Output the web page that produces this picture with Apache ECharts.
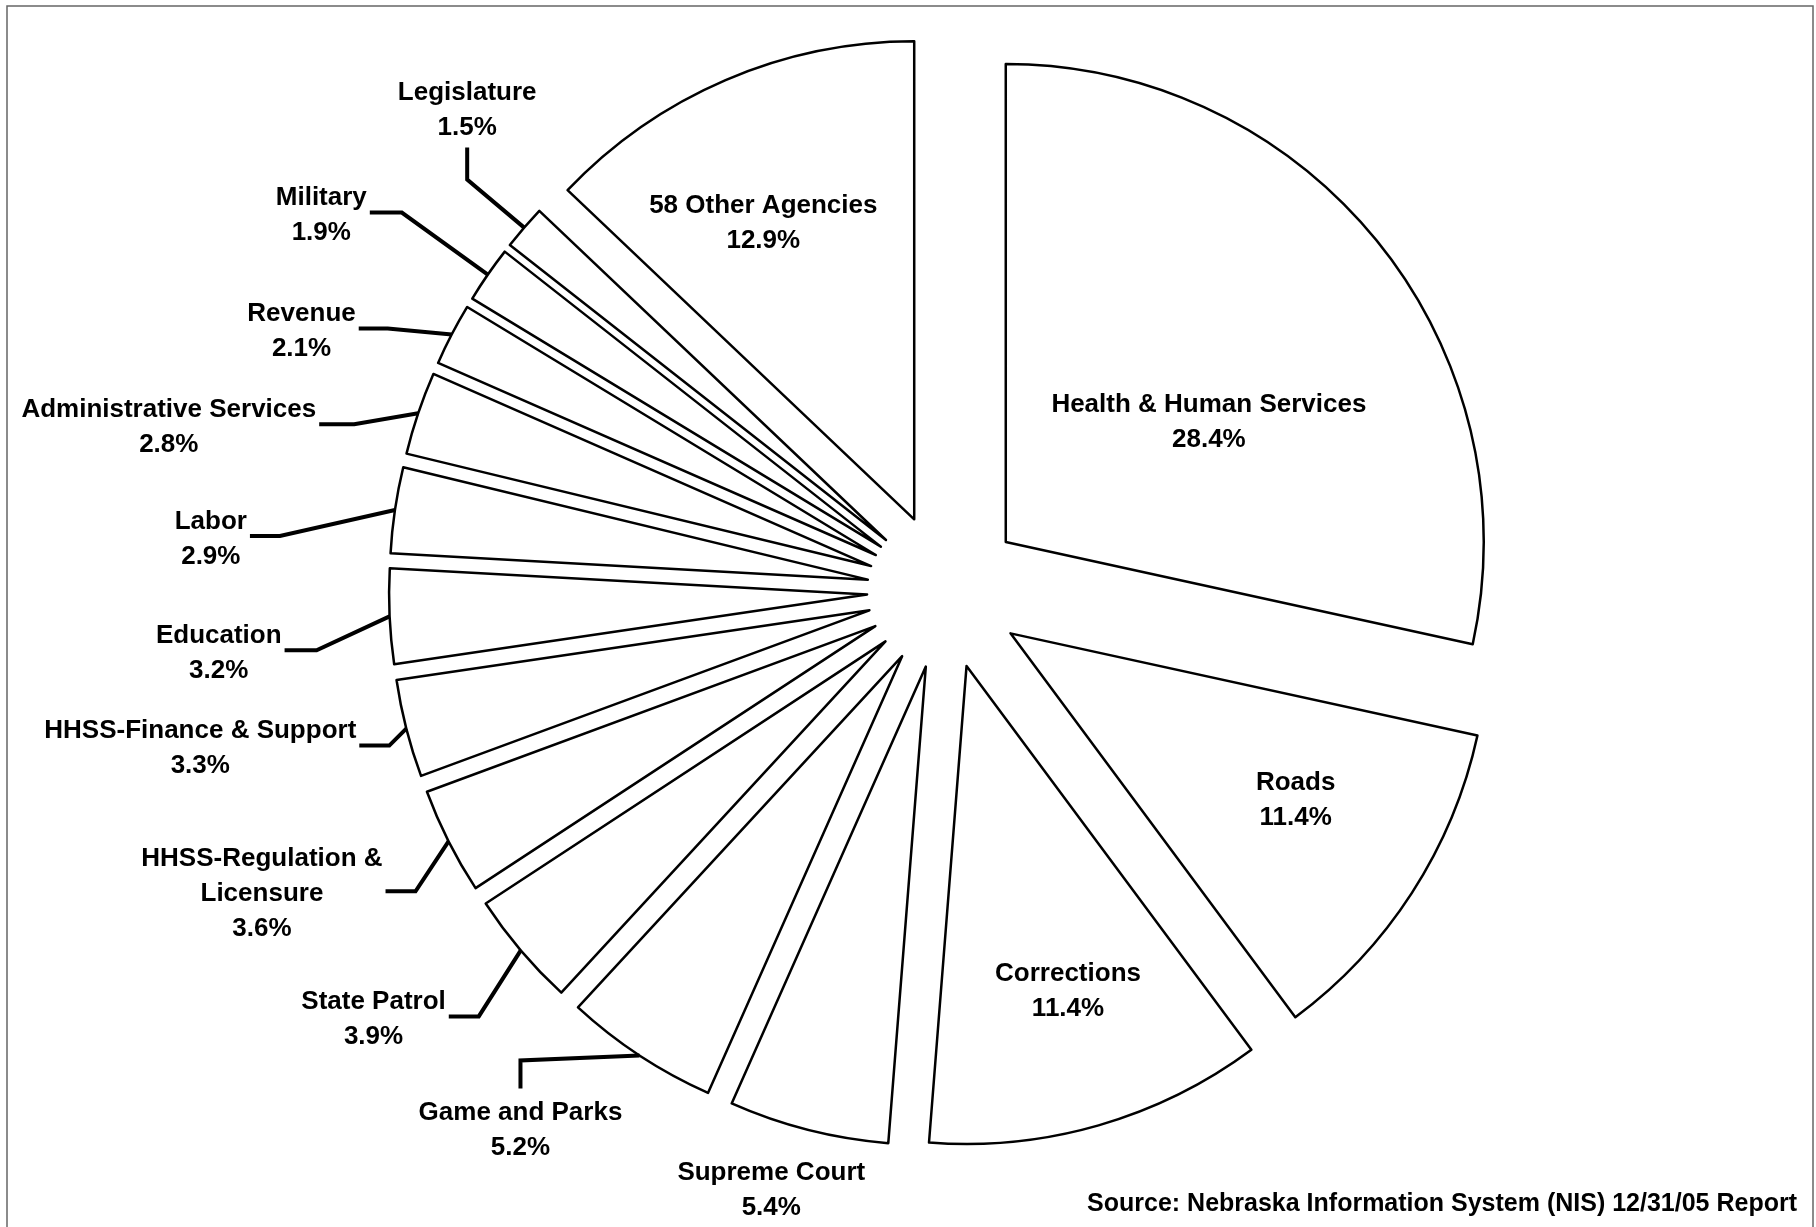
<!DOCTYPE html>
<html lang="en">
<head>
<meta charset="UTF-8">
<title>State agencies share</title>
<script src="https://cdn.jsdelivr.net/npm/echarts@6/dist/echarts.min.js"></script>
<style>
  html, body { margin: 0; padding: 0; background: #fff; }
  #my-chart { width: 1816px; height: 1227px; }
</style>
</head>
<body>
<div id="my-chart"></div>
<script>
// slices, clockwise from 12 o'clock
const agencies = [
  'Health & Human Services', 'Roads', 'Corrections', 'Supreme Court', 'Game and Parks',
  'State Patrol', 'HHSS-Regulation &\nLicensure', 'HHSS-Finance & Support', 'Education',
  'Labor', 'Administrative Services', 'Revenue', 'Military', 'Legislature', '58 Other Agencies'
];
const shares = [28.4, 11.4, 11.4, 5.4, 5.2, 3.9, 3.6, 3.3, 3.2, 2.9, 2.8, 2.1, 1.9, 1.5, 12.9];
const sourceNote = 'Source: Nebraska Information System (NIS) 12/31/05 Report';

// pie geometry (px)
const CX = 945, CY = 591, R = 478, EXPLODE = 78;
const FONT = "'Liberation Sans', Arial, sans-serif";
const TEXT_NUDGE = 3; // glyphs sit a bit low in the original

// labels inside the big slices: [distance from centre, angle in deg clockwise from top]
const insideAt = { 0: [315, 56.9], 1: [407, 120.5], 2: [416, 162.8], 14: [413, -26.1] };
// leader lines: elbow offset from the slice's outer edge, then a short stub to the text
const leaders = {
  3: { elbow: [-37, 22] },
  4: { elbow: [-119, 5], stub: 'down', len: 28 },
  5: { elbow: [-42, 66], stub: 'left', len: 30 },
  6: { elbow: [-33, 50], stub: 'left', len: 30 },
  7: { elbow: [-17, 17], stub: 'left', len: 30 },
  8: { elbow: [-73, 34], stub: 'left', len: 32 },
  9: { elbow: [-115, 26], stub: 'left', len: 30 },
  10: { elbow: [-64, 11], stub: 'left', len: 35 },
  11: { elbow: [-64, -6], stub: 'left', len: 29 },
  12: { elbow: [-86, -62], stub: 'left', len: 32 },
  13: { elbow: [-57, -48], stub: 'up', len: 32 }
};

const total = shares.reduce((a, b) => a + b, 0);
const midDeg = [];
let acc = 0;
shares.forEach(v => { midDeg.push((acc + v / 2) / total * 360); acc += v; });

function polar(r, deg) {
  const a = deg * Math.PI / 180;
  return [CX + r * Math.sin(a), CY - r * Math.cos(a)];
}

function placeLabel(p) {
  const i = p.dataIndex;
  const w = p.labelRect.width;
  if (insideAt[i] !== undefined) {
    const pt = polar(insideAt[i][0], insideAt[i][1]);
    return { x: pt[0], y: pt[1] + TEXT_NUDGE, align: 'center', verticalAlign: 'middle' };
  }
  const ld = leaders[i];
  const edge = polar(R + EXPLODE, midDeg[i]);
  const elbow = [edge[0] + ld.elbow[0], edge[1] + ld.elbow[1]];
  if (!ld.stub) {
    return { x: elbow[0], y: elbow[1] + TEXT_NUDGE, align: 'center', verticalAlign: 'top' };
  }
  let end, res;
  if (ld.stub === 'left') {
    end = [elbow[0] - ld.len, elbow[1]];
    res = { x: end[0] - 3 - w / 2, y: end[1] + TEXT_NUDGE, align: 'center', verticalAlign: 'middle' };
  } else if (ld.stub === 'up') {
    end = [elbow[0], elbow[1] - ld.len];
    res = { x: end[0], y: end[1] - 2, align: 'center', verticalAlign: 'bottom' };
  } else {
    end = [elbow[0], elbow[1] + ld.len];
    res = { x: end[0], y: end[1] + 4 + TEXT_NUDGE, align: 'center', verticalAlign: 'top' };
  }
  res.labelLinePoints = [edge, elbow, end];
  return res;
}

window.onload = function () {
  var chart = echarts.init(document.getElementById('my-chart'));

  // exploded slices (every slice selected)
  let sliceData = agencies.map((name, i) => ({ name: name, value: shares[i], selected: true }));

  // same slices again, invisible, only to carry the labels (selection would move them)
  let labelData = agencies.map((name, i) => {
    let item = { name: name, value: shares[i] };
    if (insideAt[i] !== undefined) {
      item.label = { position: 'inside' };
      item.labelLine = { show: false };
    } else if (!leaders[i].stub) {
      item.labelLine = { show: false };
    }
    return item;
  });

  let option = {
    animation: false,
    title: {
      text: sourceNote,
      right: 14,
      bottom: 5,
      textStyle: { fontFamily: FONT, fontSize: 25, fontWeight: 'bold', color: '#000' }
    },
    graphic: [{
      type: 'rect',
      shape: { x: 7, y: 6, width: 1806, height: 1260 },
      style: { fill: 'none', stroke: '#666', lineWidth: 1.5 },
      silent: true
    }],
    series: [{
      type: 'pie',
      center: [CX, CY],
      radius: [0, R],
      startAngle: 90,
      clockwise: true,
      selectedMode: 'multiple',
      selectedOffset: EXPLODE,
      itemStyle: { color: '#fff', borderColor: '#000', borderWidth: 2.5 },
      emphasis: { disabled: true },
      label: { show: false },
      labelLine: { show: false },
      data: sliceData
    }, {
      type: 'pie',
      center: [CX, CY],
      radius: [0, R],
      startAngle: 90,
      clockwise: true,
      silent: true,
      z: 3,
      avoidLabelOverlap: false,
      itemStyle: { color: 'rgba(0,0,0,0)', borderWidth: 0 },
      emphasis: { disabled: true },
      label: {
        show: true,
        position: 'outside',
        color: '#000',
        fontFamily: FONT,
        fontSize: 26,
        fontWeight: 'bold',
        lineHeight: 35,
        formatter: p => p.name + '\n' + p.value.toFixed(1) + '%'
      },
      labelLine: { show: true, length: 20, length2: 20, lineStyle: { color: '#000', width: 4 } },
      labelLayout: placeLabel,
      data: labelData
    }]
  };

  chart.setOption(option);
};
</script>
</body>
</html>
